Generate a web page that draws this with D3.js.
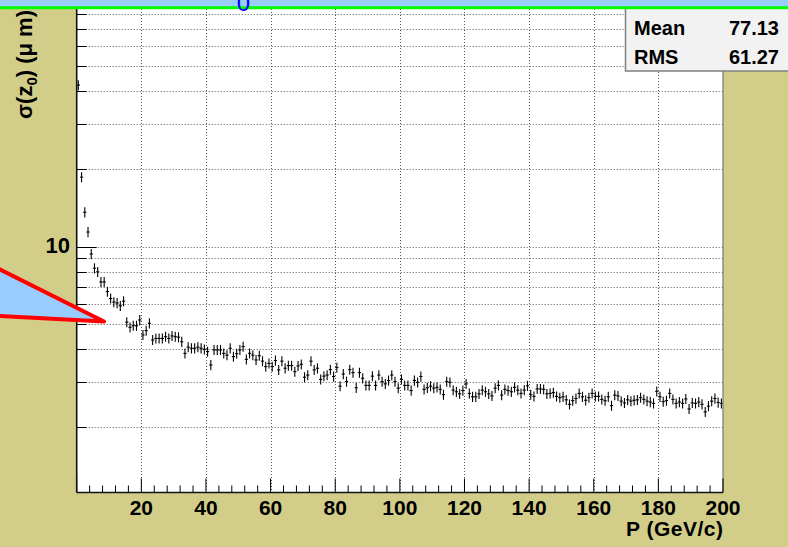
<!DOCTYPE html>
<html><head><meta charset="utf-8">
<script src="https://cdn.jsdelivr.net/npm/d3@7"></script>
<style>body{margin:0;background:#d2ce8a}svg{display:block}</style>
</head><body>
<svg id="c" width="788" height="547"></svg>
<script>
// ---- data ----
const xLabels = ["20","40","60","80","100","120","140","160","180","200"];
const xTickValues = [20,40,60,80,100,120,140,160,180,200];
const yLabelValues = [10];
const yTickValues = [2,3,4,5,6,7,8,9,10,20,30,40,50,60,70,80];
const binWidth = 1;
const sigmaZ0 = [
 42.3, 18.6, 13.6, 11.4, 9.37, 8.25, 7.99, 7.3, 7.3, 6.7,
 6.3, 6.1, 6.05, 5.9, 6.15, 5.1, 4.87, 4.94, 4.94, 5.2,
 4.55, 4.73, 5.05, 4.35, 4.41, 4.41, 4.41, 4.48, 4.41, 4.51,
 4.48, 4.46, 4.28, 3.86, 4.08, 4.04, 4.04, 4.08, 4.04, 4.0,
 3.92, 3.48, 3.98, 3.98, 3.98, 3.86, 3.8, 4.04, 3.75, 3.85,
 3.98, 4.1, 3.66, 3.86, 3.8, 3.64, 3.78, 3.6, 3.43, 3.53,
 3.43, 3.62, 3.33, 3.6, 3.38, 3.46, 3.46, 3.28, 3.45, 3.5,
 3.12, 3.18, 3.6, 3.33, 3.38, 3.06, 3.15, 3.18, 3.34, 3.14,
 3.4, 2.88, 3.21, 3.0, 3.34, 3.25, 2.84, 3.25, 3.09, 2.9,
 2.9, 3.15, 2.9, 3.18, 3.0, 2.94, 3.03, 3.18, 3.0, 2.83,
 3.06, 2.9, 2.9, 2.77, 3.03, 2.98, 3.14, 2.8, 2.84, 2.88,
 2.83, 2.85, 2.8, 2.67, 3.0, 2.98, 2.78, 2.74, 2.69, 2.77,
 2.94, 2.7, 2.62, 2.62, 2.69, 2.78, 2.74, 2.69, 2.64, 2.83,
 2.9, 2.66, 2.8, 2.77, 2.74, 2.85, 2.78, 2.7, 2.78, 2.89,
 2.67, 2.63, 2.81, 2.81, 2.8, 2.69, 2.7, 2.72, 2.63, 2.6,
 2.62, 2.55, 2.45, 2.53, 2.58, 2.7, 2.62, 2.54, 2.6, 2.7,
 2.63, 2.63, 2.56, 2.53, 2.62, 2.42, 2.66, 2.64, 2.52, 2.48,
 2.55, 2.52, 2.54, 2.55, 2.6, 2.56, 2.52, 2.5, 2.47, 2.75,
 2.62, 2.51, 2.53, 2.7, 2.56, 2.47, 2.5, 2.47, 2.57, 2.35,
 2.48, 2.47, 2.5, 2.45, 2.29, 2.41, 2.52, 2.58, 2.49, 2.47
];
const relErr = 0.045;
const statNames = ["Mean","RMS"];
const statValues = ["77.13","61.27"];
const xTitle = "P (GeV/c)";

// ---- layout ----
const W = 788, H = 547;
const L = 76.7, R = 723, T = 0, B = 492.5;
const svg = d3.select("#c");
const font = "'Liberation Sans', Arial, Helvetica, sans-serif";

const x = d3.scaleLinear().domain([0, 200]).range([L, R]);
const y = d3.scaleLog().domain([1.115, 90.4]).range([B, T]);

svg.append("rect").attr("width", W).attr("height", H).attr("fill", "#d2ce8a");
svg.append("rect").attr("x", L).attr("y", T).attr("width", R - L).attr("height", B - T).attr("fill", "#fff");

// grid
const grid = svg.append("g").attr("stroke", "#555").attr("stroke-width", 1).attr("stroke-dasharray", "1,2");
grid.selectAll("line.gy").data(yTickValues).join("line")
  .attr("x1", L).attr("x2", R)
  .attr("y1", d => Math.round(y(d)) + 0.5).attr("y2", d => Math.round(y(d)) + 0.5);
grid.selectAll("line.gx").data(xTickValues.slice(0, -1)).join("line")
  .attr("y1", T).attr("y2", B)
  .attr("x1", d => Math.round(x(d)) + 0.5).attr("x2", d => Math.round(x(d)) + 0.5);

// data crosses
const pts = svg.append("g").attr("stroke", "#000").attr("stroke-width", 1.1);
sigmaZ0.forEach((v, i) => {
  const cx = x(i * binWidth + binWidth / 2);
  const cy = y(v);
  pts.append("line").attr("x1", x(i * binWidth)).attr("x2", x((i + 1) * binWidth)).attr("y1", cy).attr("y2", cy);
  pts.append("line").attr("x1", cx).attr("x2", cx).attr("y1", y(v * (1 - relErr))).attr("y2", y(v * (1 + relErr)));
});

// frame
svg.append("line").attr("x1", R).attr("x2", R).attr("y1", T).attr("y2", B).attr("stroke", "#777").attr("stroke-width", 1.2);

// x axis
const xMinor = d3.range(0, 201, 4);
const xa = svg.append("g").attr("stroke", "#000").attr("stroke-width", 1);
xa.selectAll("line.t").data(xMinor).join("line")
  .attr("x1", d => x(d)).attr("x2", d => x(d))
  .attr("y1", B).attr("y2", d => B - (d % 20 === 0 ? 14 : 7));
svg.append("line").attr("x1", L).attr("x2", R).attr("y1", B).attr("y2", B).attr("stroke", "#111").attr("stroke-width", 1.6);
svg.selectAll("text.xl").data(xTickValues).join("text")
  .attr("x", d => x(d)).attr("y", 515).attr("text-anchor", "middle")
  .attr("font-family", font).attr("font-weight", "bold").attr("font-size", 21)
  .text((d, i) => xLabels[i]);
svg.append("text").attr("x", R).attr("y", 536).attr("text-anchor", "end")
  .attr("font-family", font).attr("font-weight", "bold").attr("font-size", 21)
  .attr("textLength", 97).attr("lengthAdjust", "spacing")
  .text(xTitle);

// y axis
const ya = svg.append("g").attr("stroke", "#000").attr("stroke-width", 1);
ya.selectAll("line").data(yTickValues).join("line")
  .attr("x1", L).attr("x2", d => L + (yLabelValues.includes(d) ? 20 : 10))
  .attr("y1", d => Math.round(y(d)) + 0.5).attr("y2", d => Math.round(y(d)) + 0.5);
svg.append("line").attr("x1", L).attr("x2", L).attr("y1", T).attr("y2", B).attr("stroke", "#111").attr("stroke-width", 1.6);
svg.selectAll("text.yl").data(yLabelValues).join("text")
  .attr("x", 70).attr("y", d => y(d) + 6.5).attr("text-anchor", "end")
  .attr("font-family", font).attr("font-weight", "bold").attr("font-size", 22)
  .text(d => d3.format("d")(d));
const yt = svg.append("text").attr("transform", "translate(32,10) rotate(-90)")
  .attr("text-anchor", "end").attr("font-family", font).attr("font-weight", "bold").attr("font-size", 22);
yt.append("tspan").text("σ(z");
yt.append("tspan").attr("font-size", 15).attr("dy", 5).text("0");
yt.append("tspan").attr("dy", -5).text(") (μ m)");

// pointer triangle
svg.append("polygon")
  .attr("points", [[-30, 254.6], [104, 321.5], [-30, 314.5]].map(p => p.join(",")).join(" "))
  .attr("fill", "#99ccff").attr("stroke", "#ff0000").attr("stroke-width", 4).attr("stroke-linejoin", "round");

// stats box
svg.append("rect").attr("x", 625.5).attr("y", 4).attr("width", 180).attr("height", 67)
  .attr("fill", "#f2f2f2").attr("stroke", "#808080").attr("stroke-width", 1.5);
statNames.forEach((n, i) => {
  svg.append("text").attr("x", 634).attr("y", 34.5 + i * 29).attr("font-family", font).attr("font-weight", "bold").attr("font-size", 20).text(n);
  svg.append("text").attr("x", 779).attr("y", 34.5 + i * 29).attr("text-anchor", "end").attr("font-family", font).attr("font-weight", "bold").attr("font-size", 20).text(statValues[i]);
});

// top title box (its text is mostly above the visible window, as in the reference)
svg.append("rect").attr("x", -10).attr("y", -50).attr("width", W + 20).attr("height", 57.7)
  .attr("fill", "#99ccff").attr("stroke", "#00ff00").attr("stroke-width", 3);
svg.append("text").attr("x", 243.5).attr("y", 11.3).attr("text-anchor", "middle")
  .attr("font-family", font).attr("font-size", 24).attr("fill", "#0000ff").text("0");
</script>
</body></html>
